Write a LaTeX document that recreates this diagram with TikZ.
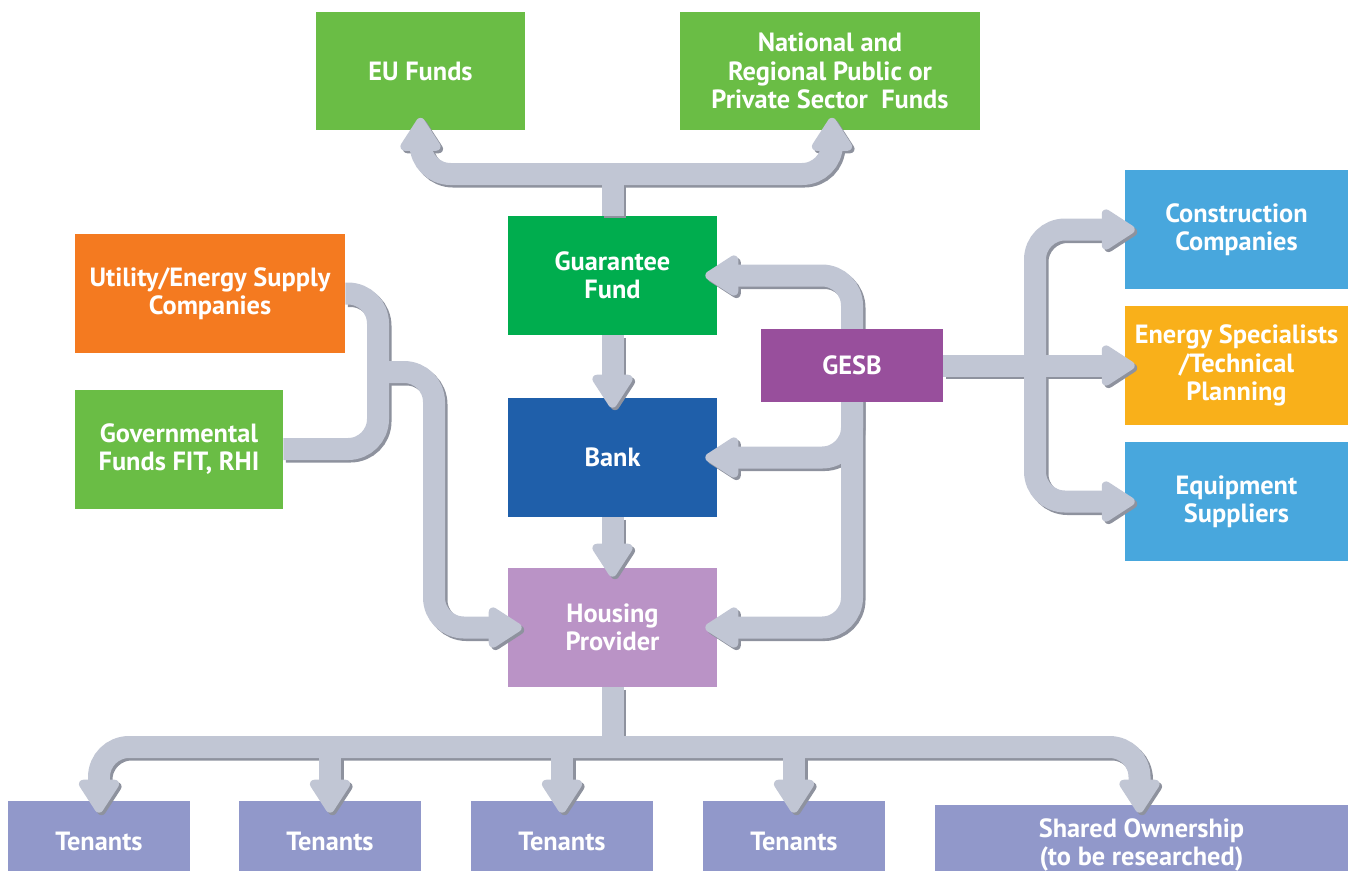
\documentclass[tikz,border=0pt]{standalone}
\usepackage{fontspec}
\setmainfont{PT Sans}
\usetikzlibrary{arrows.meta,calc}

\definecolor{fundgreen}{HTML}{6ABD45}
\definecolor{guargreen}{HTML}{00AD4E}
\definecolor{utilorange}{HTML}{F47A20}
\definecolor{bankblue}{HTML}{1F5FAA}
\definecolor{gesbpurple}{HTML}{984F9C}
\definecolor{houselilac}{HTML}{BA93C6}
\definecolor{skyblue}{HTML}{48A7DD}
\definecolor{specyellow}{HTML}{F9B01A}
\definecolor{tenantblue}{HTML}{9198CA}
\definecolor{pipegrey}{HTML}{C1C6D4}
\definecolor{pipedark}{HTML}{8E929E}

\pgfdeclarelayer{front}
\pgfsetlayers{main,front}

\begin{document}
\begin{tikzpicture}[x=0.02cm, y=-0.02cm,
  box/.style={text=white, font=\bfseries\fontsize{15}{16.2}\selectfont, align=center, inner sep=0pt, minimum width=4.18cm, minimum height=2.38cm},
  sidebox/.style={box, minimum width=4.46cm},
  tenbox/.style={box, fill=tenantblue, minimum width=3.64cm, minimum height=1.6cm},
  pipe/.style={draw=pipegrey, line width=0.44cm, rounded corners=0.6cm, >={Triangle[width=0.9cm, length=0.74cm, line width=5pt, round]}},
  pipeshadow/.style={pipe, draw=pipedark, transform canvas={xshift=0.05cm, yshift=-0.05cm}}]

\useasboundingbox (0,0) rectangle (1352,870);

% funds
\node[box, fill=fundgreen] (eu) at (420.5,71) {EU Funds};
\node[box, fill=fundgreen, minimum width=6cm] (natl) at (830,71) {National and\\Regional Public or\\Private Sector~ Funds};
\node[box, fill=utilorange, minimum width=5.4cm] (util) at (210,293.5) {Utility/Energy Supply\\Companies};
\node[box, fill=fundgreen, minimum width=4.16cm] (gov) at (179,449) {Governmental\\Funds FIT, RHI};

% middle column
\node[box, fill=guargreen] (guar) at (612.5,275.5) {Guarantee\\Fund};
\node[box, fill=bankblue] (bank) at (612.5,457.5) {Bank};
\node[box, fill=houselilac] (house) at (612.5,627.5) {Housing\\Provider};
\begin{pgfonlayer}{front}
  \node[box, fill=gesbpurple, minimum width=3.64cm, minimum height=1.46cm] (gesb) at (852,365.5) {GESB};
\end{pgfonlayer}

% contractors
\node[sidebox, fill=skyblue] (cons) at (1236.5,229.5) {Construction\\Companies};
\node[sidebox, fill=specyellow] (spec) at (1236.5,365.5) {Energy Specialists\\/Technical\\Planning};
\node[sidebox, fill=skyblue] (equip) at (1236.5,501.5) {Equipment\\Suppliers};

% occupants
\foreach \x [count=\i] in {99,330,562,794}
  \node[tenbox] (ten\i) at (\x,841) {Tenants};
\node[tenbox, minimum width=8.26cm] (shared) at (1141.5,845) {Shared Ownership\\(to be researched)};

\coordinate (topbar) at (612.5,174);
\coordinate (feed) at (378,372);
\coordinate (fork) at (1035,365.5);
\coordinate (botbar) at (612.5,747);

% shadows first, then the pipes on top
\foreach \pipestyle in {pipeshadow,pipe} {
  \draw[\pipestyle] (guar.north) -- (topbar);
  \draw[\pipestyle,<->] ($(eu.south)+(0,-13)$) |- (topbar) -| ($(natl.south)+(2,-13)$);

  \draw[\pipestyle] (util.east) -| (feed |- gov.east) -- (gov.east);
  \draw[\pipestyle,->] (feed) -- ++(56,0) |- ($(house.west)+(14,0)$);

  \draw[\pipestyle,->] (guar.south) -- ($(bank.north)+(0,10)$);
  \draw[\pipestyle,->] (bank.south) -- ($(house.north)+(0,9)$);

  \draw[\pipestyle,->] (gesb.center) |- ($(guar.east)+(-12,0)$);
  \draw[\pipestyle,->] (gesb.center) |- ($(bank.east)+(-12,0)$);
  \draw[\pipestyle,->] (gesb.center) |- ($(house.east)+(-12,0)$);

  \draw[\pipestyle,->] (gesb.east) -- ($(spec.west)+(10,0)$);
  \draw[\pipestyle,->] (fork) |- ($(cons.west)+(10,0)$);
  \draw[\pipestyle,->] (fork) |- ($(equip.west)+(10,0)$);

  \draw[\pipestyle] (house.south) -- (botbar);
  \draw[\pipestyle,<->] ($(ten1.north)+(0,12)$) |- (botbar) -| ($(shared.north)+(-2,8)$);
  \foreach \i in {2,3,4}
    \draw[\pipestyle,->] (ten\i.north |- botbar) -- ($(ten\i.north)+(0,12)$);
}

\end{tikzpicture}
\end{document}
